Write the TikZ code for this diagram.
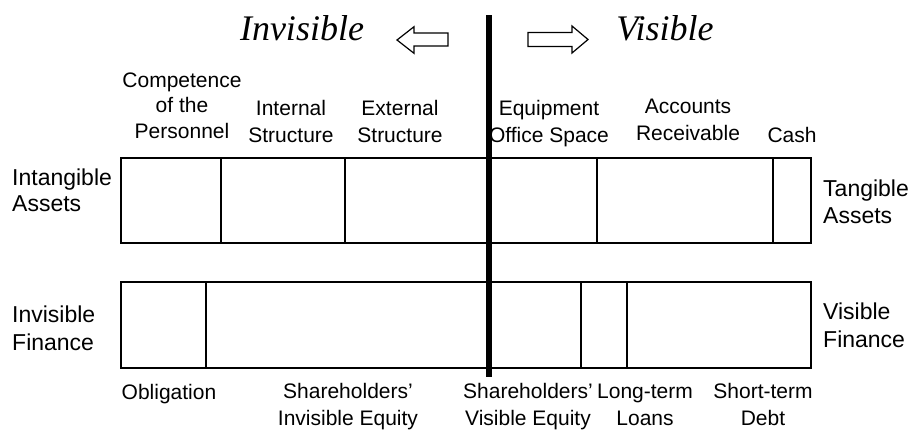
\documentclass[tikz,border=0pt]{standalone}
\usepackage{fontspec}
\setmainfont{Liberation Sans}
\newfontfamily\titlefont{Liberation Serif}
\begin{document}
\begin{tikzpicture}[x=1pt,y=-1pt,
  box/.style={draw=black,line width=1.4pt},
  sep/.style={draw=black,line width=1.3pt},
  lbl/.style={inner sep=0pt,align=center,anchor=base,font=\fontsize{21}{26.5}\selectfont},
  side/.style={inner sep=0pt,align=left,anchor=base west,font=\fontsize{23}{27}\selectfont},
  ttl/.style={inner sep=0pt,anchor=base,font=\titlefont\itshape\fontsize{36}{40}\selectfont},
  hollow/.style={draw=black,line width=1.2pt,line join=miter},
  bar/.style={draw=black,line width=6.5pt}]
\useasboundingbox (0,0) rectangle (917,429);

% titles
\node[ttl] (tinv) at (302,40) {Invisible};
\node[ttl] (tvis) at (665,40) {Visible};

% hollow arrows
\draw[hollow] (397,40) -- (414,26.7) -- (414,33) -- (448,33) -- (448,46) -- (414,46) -- (414,53.3) -- cycle;
\draw[hollow] (588,39.5) -- (572,26) -- (572,32.5) -- (528,32.5) -- (528,46.5) -- (572,46.5) -- (572,53) -- cycle;

% upper (assets) box
\coordinate (atl) at (121,158);
\coordinate (abr) at (811,243);
\draw[box] (atl) rectangle (abr);
\foreach \x in {221,345,597,773} \draw[sep] (\x,158) -- (\x,243);

% lower (finance) box
\coordinate (ftl) at (121,282);
\coordinate (fbr) at (811,368);
\draw[box] (ftl) rectangle (fbr);
\foreach \x in {206,581,627} \draw[sep] (\x,282) -- (\x,368);

% top labels (positioned at the baseline of the last line)
\node[lbl,font=\fontsize{21}{25.5}\selectfont] (comp) at (182,138) {Competence\\of the\\Personnel};
\node[lbl,font=\fontsize{21}{27}\selectfont] (ints) at (291,142) {Internal\\Structure};
\node[lbl,font=\fontsize{21}{27}\selectfont] (exts) at (400,142) {External\\Structure};
\node[lbl,font=\fontsize{21}{27}\selectfont] (equ) at (549,142) {Equipment\\Office Space};
\node[lbl,font=\fontsize{21}{27}\selectfont] (acc) at (688,140) {Accounts\\Receivable};
\node[lbl] (cash) at (792,142) {Cash};

% side labels
\node[side,font=\fontsize{23}{26}\selectfont] (intang) at (12,211) {Intangible\\Assets};
\node[side] (tang) at (823,223) {Tangible\\Assets};
\node[side,font=\fontsize{23}{28}\selectfont] (invfin) at (12,350) {Invisible\\Finance};
\node[side,font=\fontsize{23}{28}\selectfont] (visfin) at (823,347) {Visible\\Finance};

% bottom labels
\node[lbl] (obl) at (169,399) {Obligation};
\node[lbl] (shi) at (348,425) {Shareholders'\\Invisible Equity};
\node[lbl] (shv) at (528,425) {Shareholders'\\Visible Equity};
\node[lbl] (ltl) at (645,425) {Long-term\\Loans};
\node[lbl] (std) at (763,425) {Short-term\\Debt};

% dividing bar
\coordinate (bartop) at (489,15);
\coordinate (barbot) at (489,377);
\draw[bar] (bartop) -- (barbot);
\end{tikzpicture}
\end{document}
